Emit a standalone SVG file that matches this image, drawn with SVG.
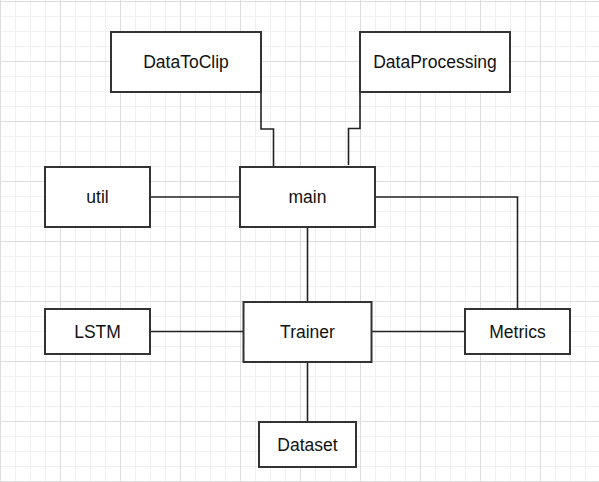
<svg xmlns="http://www.w3.org/2000/svg" width="599" height="482" viewBox="0 0 599 482">
<style>
.minor{stroke:#f0f0f0;stroke-width:1}
.major{stroke:#dddddd;stroke-width:1}
.box{fill:#ffffff;stroke:#333333;stroke-width:2}
.lbl{font-family:"Liberation Sans",Arial,sans-serif;font-size:17.5px;fill:#111111;text-anchor:middle}
.conn{fill:none;stroke:#222222;stroke-width:1.6}
</style>
<defs>
<pattern id="gMinor" x="0" y="1" width="15" height="15" patternUnits="userSpaceOnUse">
<path d="M0.5,0 V15 M0,0.5 H15" class="minor" fill="none"/>
</pattern>
<pattern id="gMajor" x="0" y="1" width="60" height="60" patternUnits="userSpaceOnUse">
<path d="M0.5,0 V60 M0,0.5 H60" class="major" fill="none"/>
</pattern>
</defs>
<rect width="599" height="482" fill="#ffffff"/>
<rect width="599" height="482" fill="url(#gMinor)"/>
<rect width="599" height="482" fill="url(#gMajor)"/>
<g id="connectors">
<path class="conn" d="M261,92 V129 H273.5 V167"/>
<path class="conn" d="M360,92 V128.5 H348.5 V165"/>
<path class="conn" d="M150,197 H240"/>
<path class="conn" d="M375,197 H517.5 V309"/>
<path class="conn" d="M307.5,227 V302"/>
<path class="conn" d="M150,331.5 H243.5"/>
<path class="conn" d="M371.5,331.5 H465"/>
<path class="conn" d="M307.5,362 V422"/>
</g>
<g id="DataToClip"><rect class="box" x="111" y="32" width="150" height="60"/><text class="lbl" x="186" y="68">DataToClip</text></g>
<g id="DataProcessing"><rect class="box" x="360" y="32" width="150" height="60"/><text class="lbl" x="435" y="68">DataProcessing</text></g>
<g id="util"><rect class="box" x="45" y="167" width="105" height="60"/><text class="lbl" x="97.5" y="203">util</text></g>
<g id="main"><rect class="box" x="240" y="167" width="135" height="60"/><text class="lbl" x="307.5" y="203">main</text></g>
<g id="LSTM"><rect class="box" x="45" y="309" width="105" height="45"/><text class="lbl" x="97.5" y="337.5">LSTM</text></g>
<g id="Trainer"><rect class="box" x="243.5" y="302" width="128" height="60"/><text class="lbl" x="307.5" y="338">Trainer</text></g>
<g id="Metrics"><rect class="box" x="465" y="309" width="105" height="45"/><text class="lbl" x="517.5" y="337.5">Metrics</text></g>
<g id="Dataset"><rect class="box" x="259" y="422" width="97" height="45"/><text class="lbl" x="307.5" y="450.5">Dataset</text></g>
</svg>
